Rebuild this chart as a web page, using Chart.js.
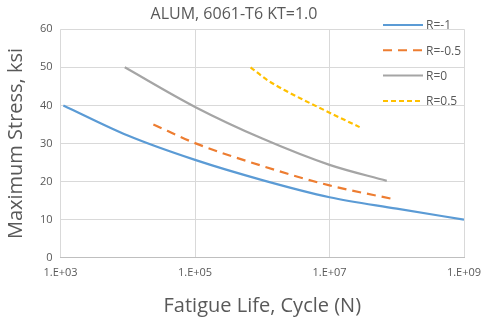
<!DOCTYPE html>
<html>
<head>
<meta charset="utf-8">
<script src="https://cdn.jsdelivr.net/npm/chart.js@4/dist/chart.umd.min.js"></script>
<style>
  html, body { margin: 0; padding: 0; background: #fff; }
  #wrap { width: 482px; height: 320px; position: relative; }
</style>
</head>
<body>
<div id="wrap"><canvas id="snChart"></canvas></div>
<script>
// S-N curves (cycles, ksi)
const seriesNames = ['R=-1', 'R=-0.5', 'R=0', 'R=0.5'];
const cyclesRm1 = [1.1e3, 1e4, 1e5, 1e6, 1e7, 1e8, 1e9];
const stressRm1 = [40, 32.1, 25.7, 20.4, 15.9, 12.9, 10.0];
const cyclesRm05 = [2.4e4, 1e5, 1e6, 1e7, 9.5e7];
const stressRm05 = [35, 30.1, 24.1, 19.0, 15.3];
const cyclesR0 = [9e3, 1e5, 1e6, 1e7, 7.1e7];
const stressR0 = [50, 39.6, 31.3, 24.4, 20.2];
const cyclesR05 = [6.7e5, 1.2e6, 2.2e6, 1e7, 2.8e7];
const stressR05 = [50, 46.6, 43.9, 38.1, 34.3];
const xTickValues = [1e3, 1e5, 1e7, 1e9];
const yTickValues = [0, 10, 20, 30, 40, 50, 60];

const colors = ['#5b9bd5', '#ed7d31', '#a5a5a5', '#ffc000'];
const dashes = [[], [9, 6], [], [5, 3]];

function toPoints(xs, ys) {
    return xs.map((x, i) => ({ x: x, y: ys[i] }));
}

const allCycles = [cyclesRm1, cyclesRm05, cyclesR0, cyclesR05];
const allStress = [stressRm1, stressRm05, stressR0, stressR05];

const datasets = seriesNames.map((name, i) => ({
    label: name,
    data: toPoints(allCycles[i], allStress[i]),
    borderColor: colors[i],
    backgroundColor: colors[i],
    borderWidth: 2.2,
    borderDash: dashes[i],
    showLine: true,
    pointRadius: 0,
    cubicInterpolationMode: 'monotone',
    fill: false
}));

function fmtExp(v) {
    const e = Math.round(Math.log10(v));
    return '1.E+' + String(e).padStart(2, '0');
}

// legend drawn over the plot, top right
const innerLegend = {
    id: 'innerLegend',
    afterDraw(chart) {
        const ctx = chart.ctx;
        ctx.save();
        ctx.font = '12px "Open Sans", "Liberation Sans", sans-serif';
        ctx.textBaseline = 'middle';
        ctx.fillStyle = '#595959';
        seriesNames.forEach((name, i) => {
            const y = 25 + i * 25.3;
            ctx.beginPath();
            ctx.strokeStyle = colors[i];
            ctx.lineWidth = 2;
            ctx.setLineDash(dashes[i]);
            ctx.moveTo(383, y);
            ctx.lineTo(423, y);
            ctx.stroke();
            ctx.setLineDash([]);
            ctx.fillText(name, 426, y + 1);
        });
        ctx.restore();
    }
};

const tickFont = { family: '"Open Sans", "Liberation Sans", sans-serif', size: 11 };

new Chart(document.getElementById('snChart'), {
    type: 'scatter',
    data: { datasets: datasets },
    options: {
        responsive: true,
        maintainAspectRatio: false,
        animation: false,
        layout: { padding: { top: 4, right: 18, left: 4, bottom: 2 } },
        plugins: {
            legend: { display: false },
            tooltip: { enabled: false },
            title: {
                display: true,
                text: 'ALUM, 6061-T6 KT=1.0',
                color: '#595959',
                font: { family: '"Open Sans", "Liberation Sans", sans-serif', size: 16, weight: 'normal' },
                padding: { top: 1, bottom: 5 }
            }
        },
        scales: {
            x: {
                type: 'logarithmic',
                min: 1e3,
                max: 1e9,
                afterBuildTicks: axis => { axis.ticks = xTickValues.map(v => ({ value: v })); },
                // let the last label run past the edge like the original
                afterFit: axis => { axis.paddingRight = 0; },
                grid: { color: '#d9d9d9', drawTicks: false },
                border: { color: '#bfbfbf' },
                ticks: {
                    color: '#595959',
                    font: tickFont,
                    padding: 8,
                    maxRotation: 0,
                    callback: v => fmtExp(v)
                },
                title: {
                    display: true,
                    text: 'Fatigue Life, Cycle (N)',
                    color: '#595959',
                    font: { family: '"Open Sans", "Liberation Sans", sans-serif', size: 20 },
                    padding: { top: 7, bottom: 0 }
                }
            },
            y: {
                min: 0,
                max: 60,
                afterBuildTicks: axis => { axis.ticks = yTickValues.map(v => ({ value: v })); },
                grid: { color: '#d9d9d9', drawTicks: false },
                border: { display: false },
                ticks: { color: '#595959', font: tickFont, padding: 8 },
                title: {
                    display: true,
                    text: 'Maximum Stress, ksi',
                    color: '#595959',
                    font: { family: '"Open Sans", "Liberation Sans", sans-serif', size: 20 },
                    padding: { top: 0, bottom: 4 }
                }
            }
        }
    },
    plugins: [innerLegend]
});
</script>
</body>
</html>
